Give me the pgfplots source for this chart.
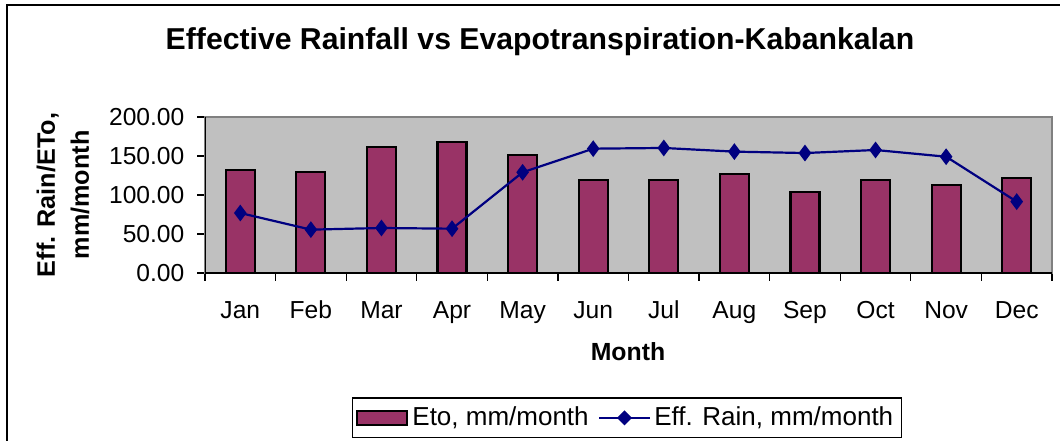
\documentclass[border=0pt]{standalone}
\usepackage{pgfplots}
\pgfplotsset{compat=1.18}
\usepackage{fontspec}
\setmainfont{Liberation Sans}
\definecolor{barc}{HTML}{993366}
\definecolor{bgc}{HTML}{C0C0C0}
\definecolor{linec}{HTML}{000080}
\begin{document}
\begin{tikzpicture}[x=0.5pt,y=0.5pt]
\path[use as bounding box] (0,0) rectangle (1060,440);
\draw[black, line width=0.7pt] (7,-10) -- (7,435) -- (1070,435);
\node[font=\bfseries\fontsize{15.1}{17}\selectfont] at (540,398) {Effective Rainfall vs Evapotranspiration-Kabankalan};
\node[font=\bfseries\fontsize{12.6}{17}\selectfont, rotate=90, align=center] at (63,245) {Eff. Rain/ETo,\\mm/month};
\node[font=\bfseries\fontsize{12.4}{14}\selectfont] at (628,88) {Month};
\begin{axis}[
  at={(102.5pt,83.5pt)}, anchor=south west,
  scale only axis, width=423.5pt, height=78pt,
  xmin=-0.5, xmax=11.5, ymin=0, ymax=200,
  ytick={0,50,100,150,200},
  xtick={-0.5,0.5,...,11.5}, xticklabels={},
  extra x ticks={0,1,2,3,4,5,6,7,8,9,10,11},
  extra x tick labels={Jan,Feb,Mar,Apr,May,Jun,Jul,Aug,Sep,Oct,Nov,Dec},
  extra x tick style={major tick length=0pt, xticklabel style={yshift=-10pt, text height=9pt, text depth=2.5pt}},
  tick align=outside, xtick pos=bottom, ytick pos=left,
  major tick length=3.8pt,
  tick style={black, line width=0.6pt},
  axis background/.style={fill=bgc},
  axis line style={draw=gray, line width=1pt},
  yticklabel style={xshift=-3pt, /pgf/number format/.cd, fixed, fixed zerofill, precision=2, assume math mode=true},
  tick label style={font=\fontsize{12.3}{14}\selectfont},
  legend columns=2,
  legend style={at={(0.498,-0.929)}, anchor=center, draw=black, line width=0.6pt,
    font=\fontsize{13}{15}\selectfont, inner xsep=2pt, inner ysep=2.5pt,
    /tikz/every even column/.append style={column sep=3pt}},
  legend cell align=left,
]
\addplot[ybar, bar width=14.5pt, fill=barc, draw=black, line width=1.1pt,
  legend image code/.code={\draw[fill=barc, draw=black, line width=1pt] (0pt,-3.5pt) rectangle (25pt,3.5pt);}]
  coordinates {(0,131.6) (1,129.9) (2,162.0) (3,168.4) (4,151.3) (5,119.7) (6,118.8) (7,126.9) (8,104.3) (9,119.7) (10,112.4) (11,122.2)};
\addlegendentry{Eto, mm/month}
\addplot[linec, line width=1.1pt, mark=diamond*, mark size=3.3pt, mark options={fill=linec, draw=linec},
  legend image code/.code={\draw[linec, line width=0.8pt] (0pt,0pt) -- (25pt,0pt); \fill[linec] (12.5pt,0pt) +(-3pt,0) -- +(0,3pt) -- +(3pt,0) -- +(0,-3pt) -- cycle;}]
  coordinates {(0,76.9) (1,55.6) (2,57.7) (3,56.8) (4,129.1) (5,159.4) (6,160.3) (7,155.6) (8,153.8) (9,157.7) (10,149.1) (11,91.5)};
\addlegendentry{Eff. Rain, mm/month}
\draw[black, line width=1pt] (rel axis cs:0,1) -- (rel axis cs:0,0) -- (rel axis cs:1,0);
\end{axis}
\end{tikzpicture}
\end{document}
